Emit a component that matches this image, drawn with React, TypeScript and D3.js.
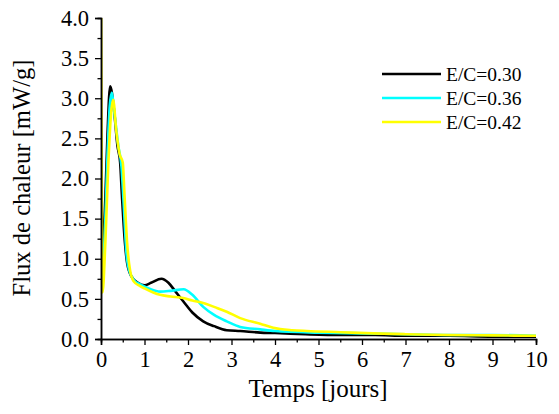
import React, { useEffect, useRef } from 'react';
import * as d3 from 'd3';

// E/C = 0.30
const tBlack = [0, 0.05, 0.1, 0.15, 0.21, 0.3, 0.38, 0.44, 0.48, 0.55, 0.6, 0.7, 0.85, 1.0, 1.15, 1.39, 1.55, 1.7, 1.89, 2.1, 2.35, 2.6, 2.89, 3.2, 3.66, 4.0, 4.7, 5.5, 6.3, 7, 8, 9, 10];
const vBlack = [0.9, 1.2, 1.75, 2.55, 3.15, 2.85, 2.4, 2.2, 1.8, 1.2, 0.95, 0.78, 0.7, 0.67, 0.7, 0.75, 0.7, 0.6, 0.47, 0.33, 0.22, 0.16, 0.11, 0.1, 0.08, 0.075, 0.06, 0.05, 0.05, 0.04, 0.04, 0.03, 0.03];
// E/C = 0.36
const tCyan = [0, 0.05, 0.1, 0.15, 0.2, 0.25, 0.3, 0.4, 0.47, 0.52, 0.58, 0.65, 0.75, 0.9, 1.1, 1.36, 1.6, 1.9, 2.1, 2.35, 2.6, 2.89, 3.2, 3.66, 4.0, 5, 6, 7, 8, 9, 10];
const vCyan = [0.65, 0.9, 1.5, 2.3, 2.9, 3.07, 2.85, 2.4, 2.15, 1.7, 1.1, 0.85, 0.74, 0.68, 0.63, 0.59, 0.6, 0.62, 0.55, 0.4, 0.3, 0.22, 0.15, 0.12, 0.1, 0.08, 0.07, 0.06, 0.05, 0.05, 0.04];
// E/C = 0.42
const tYellow = [0, 0.035, 0.1, 0.17, 0.23, 0.28, 0.35, 0.43, 0.5, 0.54, 0.6, 0.67, 0.75, 0.9, 1.0, 1.2, 1.36, 1.6, 1.89, 2.1, 2.35, 2.6, 2.89, 3.2, 3.66, 3.96, 4.4, 4.73, 5.5, 6.26, 7, 8, 9, 10];
const vYellow = [4.5, 0.58, 1.2, 2.2, 2.8, 2.98, 2.6, 2.3, 2.2, 1.8, 1.2, 0.85, 0.72, 0.66, 0.63, 0.58, 0.55, 0.53, 0.51, 0.48, 0.45, 0.4, 0.34, 0.26, 0.19, 0.14, 0.11, 0.1, 0.085, 0.07, 0.06, 0.05, 0.045, 0.04];

const seriesNames = ['E/C=0.30', 'E/C=0.36', 'E/C=0.42'];
const seriesColors = ['#000000', '#00ffff', '#ffff00'];
const xTicks = [0, 1, 2, 3, 4, 5, 6, 7, 8, 9, 10];
const yTicks = [0, 0.5, 1, 1.5, 2, 2.5, 3, 3.5, 4];

const W = 559;
const H = 414;
const FONT = '"Liberation Serif", "Times New Roman", serif';

export default function App() {
  const ref = useRef<SVGSVGElement>(null);

  useEffect(() => {
    const svg = d3.select(ref.current);
    svg.selectAll('*').remove();

    const x = d3.scaleLinear().domain([0, 10]).range([101, 536]);
    const y = d3.scaleLinear().domain([0, 4]).range([339, 18]);

    svg.append('defs').append('clipPath').attr('id', 'plot-clip')
      .append('rect').attr('x', x(0)).attr('y', y(4)).attr('width', x(10) - x(0)).attr('height', y(0) - y(4));

    const series = [
      { t: tBlack, v: vBlack },
      { t: tCyan, v: vCyan },
      { t: tYellow, v: vYellow },
    ];

    const line = d3.line<[number, number]>()
      .x(d => x(d[0]))
      .y(d => y(d[1]))
      .curve(d3.curveMonotoneX);

    const g = svg.append('g').attr('clip-path', 'url(#plot-clip)');
    series.forEach((s, i) => {
      const pts = s.t.map((t, k) => [t, s.v[k]] as [number, number]);
      g.append('path')
        .attr('d', line(pts))
        .attr('fill', 'none')
        .attr('stroke', seriesColors[i])
        .attr('stroke-width', 2.6);
    });

    // minor ticks (own groups so the major axis is not overwritten)
    svg.append('g').attr('transform', `translate(0,${y(0)})`)
      .call(d3.axisBottom(x).tickValues(d3.range(0.5, 10, 1)).tickSize(3.5).tickFormat(() => '') as any);
    svg.append('g').attr('transform', `translate(${x(0)},0)`)
      .call(d3.axisLeft(y).tickValues(d3.range(0.25, 4, 0.5)).tickSize(3.5).tickFormat(() => '') as any);

    // major axes
    const xAxis = svg.append('g').attr('transform', `translate(0,${y(0)})`)
      .call(d3.axisBottom(x).tickValues(xTicks).tickSize(6).tickPadding(7).tickFormat(d3.format('d')) as any);
    svg.append('g').attr('transform', `translate(${x(0)},0)`)
      .call(d3.axisLeft(y).tickValues(yTicks).tickSize(6).tickPadding(6).tickFormat(d3.format('.1f')) as any);

    svg.selectAll('.domain').attr('stroke', '#000').attr('stroke-width', 1.5);
    svg.selectAll('.tick line').attr('stroke', '#000').attr('stroke-width', 1.3);
    svg.selectAll('.tick text')
      .attr('font-family', FONT)
      .attr('font-size', 22.5)
      .attr('fill', '#000');
    xAxis.selectAll('.tick text').attr('dy', '0.68em');

    svg.append('text')
      .attr('x', 318).attr('y', 397)
      .attr('text-anchor', 'middle')
      .attr('font-family', FONT).attr('font-size', 25)
      .text('Temps [jours]');

    svg.append('text')
      .attr('transform', `translate(30,178) rotate(-90)`)
      .attr('text-anchor', 'middle')
      .attr('font-family', FONT).attr('font-size', 24.6)
      .text('Flux de chaleur [mW/g]');

    const legend = svg.append('g');
    seriesNames.forEach((name, i) => {
      const ly = 74 + i * 24;
      legend.append('line')
        .attr('x1', 382).attr('x2', 441).attr('y1', ly).attr('y2', ly)
        .attr('stroke', seriesColors[i]).attr('stroke-width', 2.6);
      legend.append('text')
        .attr('x', 446).attr('y', ly).attr('dy', '0.34em')
        .attr('font-family', FONT).attr('font-size', 19.5)
        .text(name);
    });
  }, []);

  return (
    <svg ref={ref} width={W} height={H} style={{ display: 'block', margin: -8, background: '#fff' }} />
  );
}
